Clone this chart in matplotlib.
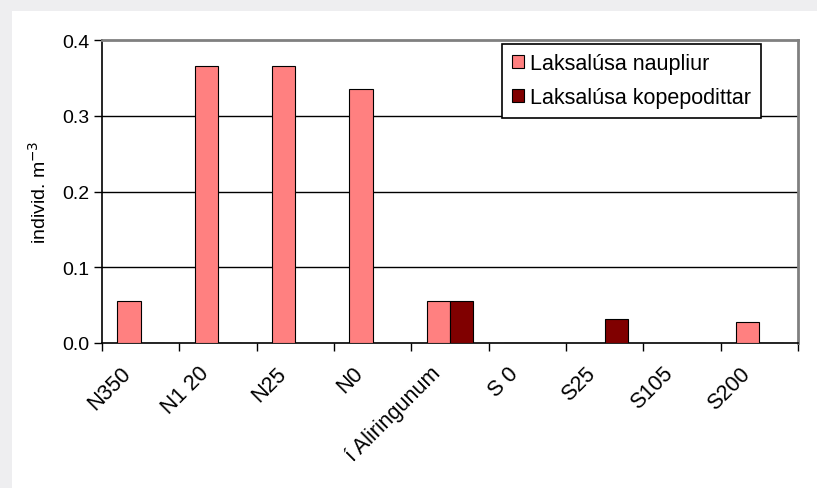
import numpy as np
import matplotlib.pyplot as plt
import matplotlib.transforms as mtransforms
from matplotlib.patches import Rectangle

plt.rcParams['font.family'] = ['Liberation Sans', 'DejaVu Sans']

# stöðvar og gildi (individ. m-3)
stodvar = ['N350', 'N1 20', 'N25', 'N0', 'í Aliringunum', 'S 0', 'S25', 'S105', 'S200']
naupliur = [0.055, 0.366, 0.366, 0.335, 0.055, 0.0, 0.0, 0.0, 0.028]
kopepoditt = [0.0, 0.0, 0.0, 0.0, 0.055, 0.0, 0.032, 0.0, 0.0]
nofn = ['Laksalúsa naupliur', 'Laksalúsa kopepodittar']
yticks = [0.0, 0.1, 0.2, 0.3, 0.4]

fig = plt.figure(figsize=(8.17, 4.89), dpi=100)
fig.patch.set_facecolor('#eeeef0')
fig.patches.append(Rectangle((12/817, 0), 1, 1 - 12/489, transform=fig.transFigure,
                             facecolor='white', edgecolor='none', zorder=-5))

ax = fig.add_axes([102/817, 1 - 344/489, 696/817, 303/489])
ax.set_facecolor('white')

x = np.arange(len(stodvar))
w = 0.3
ax.bar(x - w/2, naupliur, w, color='#ff8080', edgecolor='black', linewidth=0.8,
       label=nofn[0], zorder=3)
ax.bar(x + w/2, kopepoditt, w, color='#800000', edgecolor='black', linewidth=0.8,
       label=nofn[1], zorder=3)

ax.set_xlim(-0.5, len(stodvar) - 0.5)
ax.set_ylim(0, 0.4)
ax.set_yticks(yticks)
ax.set_yticklabels([f'{v:.1f}' for v in yticks], fontsize=14)
for v in yticks[1:-1]:
    ax.axhline(v, color='black', linewidth=1, zorder=1)

# tikk á mörkum flokka, nöfn á miðju
ax.set_xticks(np.arange(-0.5, len(stodvar)))
ax.set_xticklabels([])
ax.set_xticks(x, minor=True)
ax.set_xticklabels(stodvar, minor=True, rotation=45, ha='right',
                   rotation_mode='anchor', fontsize=15.5)
ax.tick_params(axis='x', which='minor', length=0, pad=14)
ax.tick_params(axis='x', which='major', direction='out', length=6, width=1)
ax.tick_params(axis='y', direction='out', length=6, width=1, pad=3)
offs = mtransforms.ScaledTranslation(-20/100, 0, fig.dpi_scale_trans)
for lab in ax.xaxis.get_minorticklabels():
    lab.set_transform(lab.get_transform() + offs)

for s in ['left', 'bottom']:
    ax.spines[s].set_color('black')
    ax.spines[s].set_linewidth(1.2)
for s in ['top', 'right']:
    ax.spines[s].set_color('#808080')
    ax.spines[s].set_linewidth(2)

ax.set_ylabel('individ. m$^{-3}$', fontsize=14, labelpad=9)

leg = ax.legend(loc='upper right', bbox_to_anchor=(0.947, 0.988), fontsize=15.5,
                frameon=True, fancybox=False, edgecolor='black', framealpha=1,
                handlelength=0.55, handleheight=0.55, handletextpad=0.3,
                labelspacing=0.6, borderpad=0.45, borderaxespad=0)
leg.get_frame().set_linewidth(1.2)

plt.savefig('out.png', dpi=100, facecolor=fig.get_facecolor())
